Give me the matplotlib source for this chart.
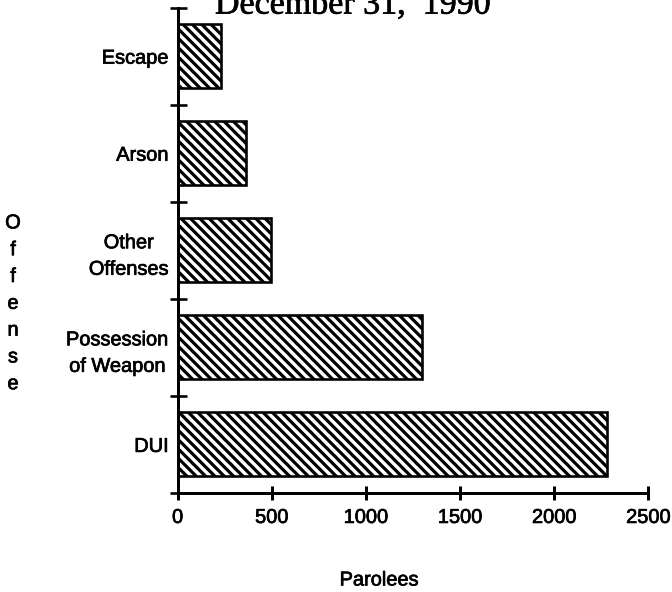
import matplotlib
matplotlib.use("Agg")
import matplotlib.pyplot as plt
import matplotlib.patheffects as pe
from matplotlib.ticker import FixedLocator

# low dpi so that a "\\\\" hatch gives ~9 px stripe spacing
DPI = 56
PT = 72 / DPI  # points per pixel

offenses = ["DUI", "Possession\nof Weapon", "Other\nOffenses", "Arson", "Escape"]
parolees = [2280, 1300, 495, 365, 230]
x_ticks = [0, 500, 1000, 1500, 2000, 2500]

plt.rcParams["font.family"] = ["Liberation Sans", "DejaVu Sans"]
plt.rcParams["hatch.linewidth"] = 3.2 * PT
plt.rcParams["hatch.color"] = "black"

# heavier strokes on the type, like the printed original
heavy = [pe.withStroke(linewidth=0.7 * PT, foreground="black")]

fig = plt.figure(figsize=(672.4 / DPI, 592.4 / DPI), dpi=DPI)
ax = fig.add_axes([177.5 / 672, 1 - 493 / 592, 470.5 / 672, 485 / 592])

pos = list(range(len(offenses)))
ax.barh(pos, parolees, height=0.66, color="white", edgecolor="black",
        linewidth=2.6 * PT, hatch="\\\\", zorder=2)

ax.set_xlim(x_ticks[0], x_ticks[-1])
ax.set_ylim(pos[0] - 0.5, pos[-1] + 0.5)

for side in ("top", "right"):
    ax.spines[side].set_visible(False)
for side in ("left", "bottom"):
    ax.spines[side].set_linewidth(3 * PT)
    ax.spines[side].set_zorder(3)

ax.set_xticks(x_ticks)
ax.set_xticklabels([str(t) for t in x_ticks])
ax.tick_params(axis="x", direction="inout", length=14 * PT, width=3 * PT,
               pad=8 * PT, labelsize=20 * PT)

ax.set_yticks(pos)
ax.set_yticklabels(offenses)
ax.tick_params(axis="y", which="major", length=0, pad=9 * PT, labelsize=20 * PT)
ax.yaxis.set_minor_locator(FixedLocator([p - 0.5 for p in pos] + [pos[-1] + 0.5]))
ax.tick_params(axis="y", which="minor", direction="inout", length=17 * PT,
               width=2.6 * PT)
for lbl in ax.get_yticklabels():
    lbl.set_multialignment("center")
    lbl.set_linespacing(1.5)
for lbl in ax.get_yticklabels() + ax.get_xticklabels():
    lbl.set_path_effects(heavy)

fig.text(352.5 / 672, 1 - 14 / 592, "December 31,  1990", ha="center",
         va="baseline", family=["Liberation Serif", "DejaVu Serif"],
         fontsize=34 * PT, path_effects=heavy)
fig.text(13 / 672, 1 - 303.5 / 592, "\n".join("Offense"), ha="center",
         va="center", multialignment="center", linespacing=1.52,
         fontsize=20 * PT, path_effects=heavy)
fig.text(379 / 672, 1 - 580 / 592, "Parolees", ha="center", va="center",
         fontsize=20 * PT, path_effects=heavy)

fig.savefig("out.png", dpi=DPI, facecolor="white")
